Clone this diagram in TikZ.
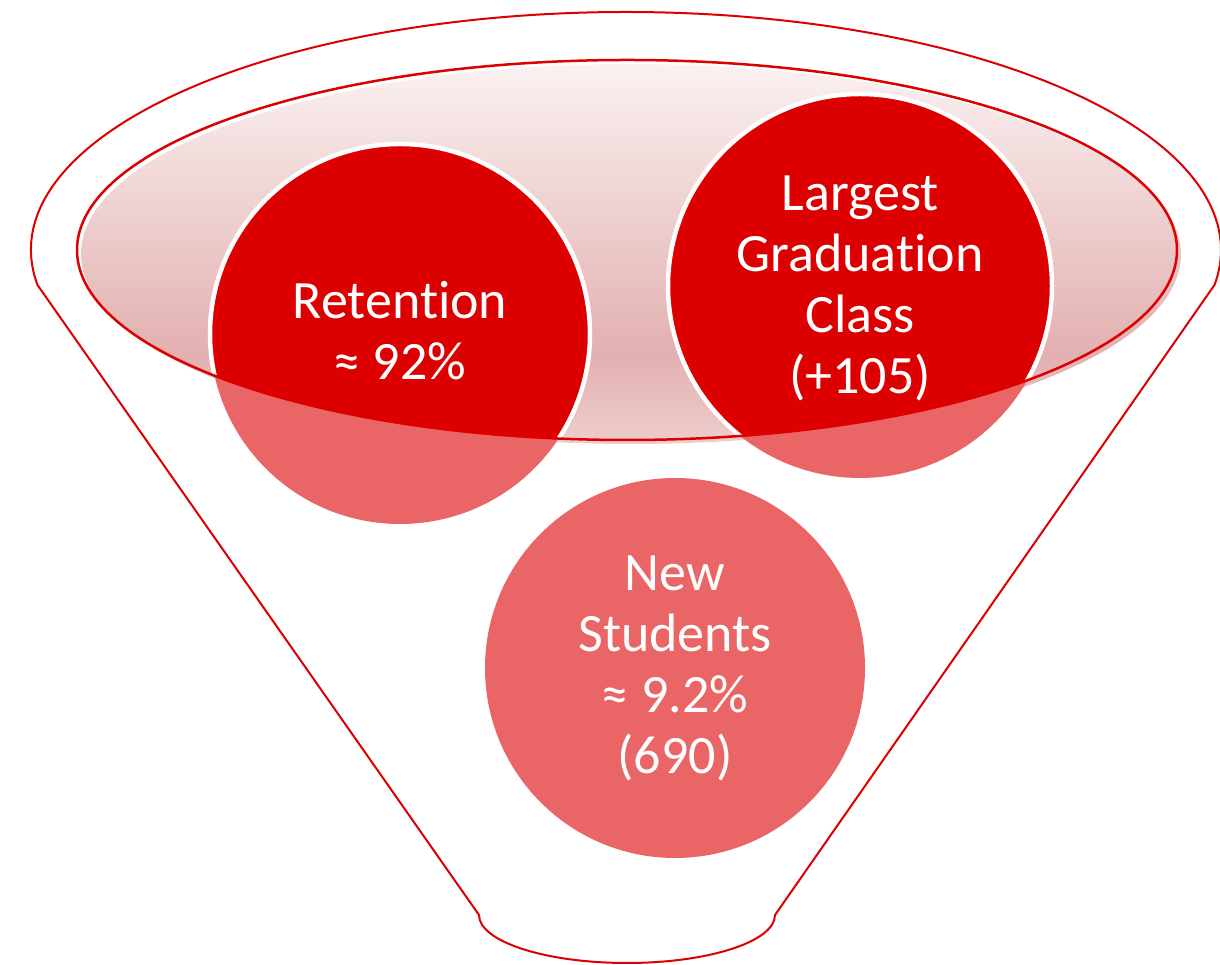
\documentclass[tikz,border=0pt]{standalone}
\usepackage{fontspec}
\setmainfont{Carlito}[Ligatures={NoCommon}]
\definecolor{fred}{HTML}{DC0000}
\definecolor{flight}{HTML}{EA6666}
\definecolor{gtop}{HTML}{FAF1F1}
\definecolor{gmid}{HTML}{E3B0B0}
\definecolor{gbot}{HTML}{EECDCD}
\pgfdeclareverticalshading{funnelgrad}{100bp}{color(0bp)=(gbot); color(25bp)=(gbot); color(37bp)=(gmid); color(75bp)=(gtop); color(100bp)=(gtop)}
\begin{document}
\begin{tikzpicture}[x=1pt,y=1pt,
  funnelline/.style={draw=fred, line width=2pt, line join=round},
  rimline/.style={draw=fred, line width=2.5pt},
  label/.style={text=white, align=center, inner sep=0pt, font=\fontsize{54}{61}\selectfont}]
\useasboundingbox (0,0) rectangle (1220,965);
% centres
\coordinate (cret) at (400,631);
\coordinate (cgrad) at (860,679);
\coordinate (cnew) at (675,297);
\coordinate (crim) at (627,715);
% funnel outline
\draw[funnelline] (37.5,680) arc[start angle=188.46, end angle=-8.46, x radius=595pt, y radius=238pt]
  -- (775,50) arc[start angle=0, end angle=-180, x radius=148pt, y radius=48pt] -- cycle;
% gradient rim fill (slightly offset)
\shade[shading=funnelgrad] (631,711) ellipse [x radius=550pt, y radius=190pt];
% light circles
\fill[flight] (cret) circle (190pt);
\fill[flight] (cgrad) circle (192pt);
\fill[flight] (cnew) circle (190pt);
% dark parts inside rim
\begin{scope}
  \clip (crim) ellipse [x radius=550pt, y radius=190pt];
  \fill[fred] (cret) circle (190pt);
  \fill[fred] (cgrad) circle (192pt);
  \draw[white, line width=4.5pt] (cret) circle (190pt);
  \draw[white, line width=4.5pt] (cgrad) circle (192pt);
\end{scope}
% rim outline
\draw[rimline] (crim) ellipse [x radius=550pt, y radius=190pt];
% labels
\node[label] (ret) at (400,634) {Retent\kern0pt ion\\≈ 92\%};
\node[label] (grad) at (860,677) {Largest\\Graduat\kern0pt ion\\Class\\(+105)};
\node[label] (new) at (675,297) {New\\Students\\≈ 9.2\%\\(690)};
\end{tikzpicture}
\end{document}
